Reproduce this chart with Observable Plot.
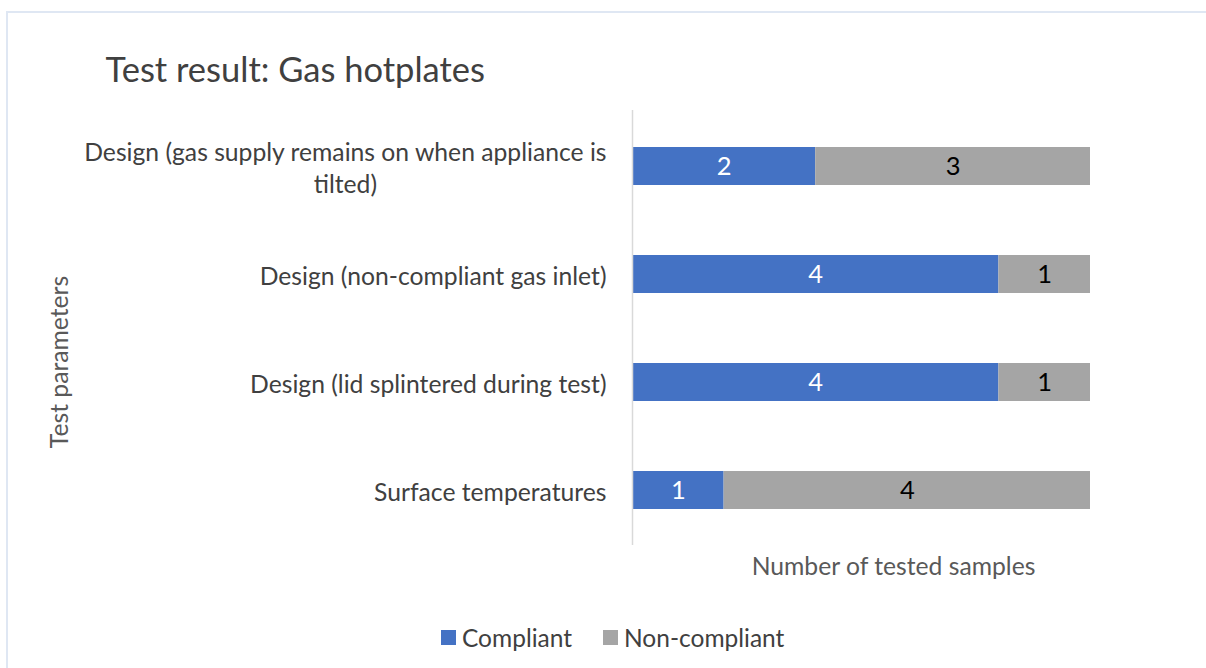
<!DOCTYPE html>
<html>
<head>
<meta charset="utf-8">
<script src="https://cdn.jsdelivr.net/npm/d3@7"></script>
<script src="https://cdn.jsdelivr.net/npm/@observablehq/plot@0.6"></script>
<style>
  html, body { margin: 0; padding: 0; background: #fff; }
  body { width: 1206px; height: 668px; overflow: hidden; position: relative; font-family: Lato, "Open Sans", sans-serif; }
  #border { position: absolute; left: 6px; top: 11px; width: 1400px; height: 900px;
            border-left: 2px solid #dfe7f3; border-top: 2px solid #dfe7f3; }
  #chart { position: absolute; left: 0; top: 0; }
  #legend { position: absolute; left: 441px; top: 620px; height: 34px; display: flex; align-items: center;
            font-size: 24.5px; color: #404040; white-space: nowrap; }
  #legend .item { display: flex; align-items: center; margin-right: 31px; }
  #legend .sw { width: 15px; height: 15px; margin-right: 6px; }
</style>
</head>
<body>
<div id="border"></div>
<div id="chart"></div>
<div id="legend"></div>
<script>
const categories = [
  "Design (gas supply remains on when appliance is\ntilted)",
  "Design (non-compliant gas inlet)",
  "Design (lid splintered during test)",
  "Surface temperatures"
];
const compliant = [2, 4, 4, 1];
const nonCompliant = [3, 1, 1, 4];
const seriesNames = ["Compliant", "Non-compliant"];
const seriesColors = ["#4472C4", "#A5A5A5"];
const xDomain = [0, 5];
const titleText = "Test result: Gas hotplates";
const xTitle = "Number of tested samples";
const yTitle = "Test parameters";

const data = categories.flatMap((c, i) => [
  {category: c, status: seriesNames[0], value: compliant[i]},
  {category: c, status: seriesNames[1], value: nonCompliant[i]}
]);

const textColor = "#404040";
const titleColor = "#595959";
const fs = 24.7;

const chart = Plot.plot({
  width: 1206,
  height: 668,
  marginLeft: 632,
  marginRight: 116,
  marginTop: 110,
  marginBottom: 123,
  style: {fontFamily: "Lato, 'Open Sans', sans-serif", background: "transparent", overflow: "visible"},
  x: {domain: xDomain, axis: null},
  y: {domain: categories, paddingInner: 0.65, paddingOuter: 0.325, axis: null},
  color: {domain: seriesNames, range: seriesColors},
  marks: [
    Plot.barX(data, Plot.stackX({x: "value", y: "category", fill: "status", order: seriesNames})),
    Plot.ruleX([0], {stroke: "#d9d9d9", strokeWidth: 1.5}),
    Plot.text(data, Plot.stackX({x: "value", y: "category", z: "status", order: seriesNames,
      text: d => d.status === seriesNames[0] ? String(d.value) : "", fill: "white", fontSize: 25.5})),
    Plot.text(data, Plot.stackX({x: "value", y: "category", z: "status", order: seriesNames,
      text: d => d.status === seriesNames[1] ? String(d.value) : "", fill: "black", fontSize: 25.5})),
    Plot.axisY({tickSize: 0, tickPadding: 26, fontSize: fs, color: textColor, lineHeight: 1.32, label: null,
      tickFormat: d => d}),
    Plot.text([titleText], {frameAnchor: "top-left", textAnchor: "start", lineAnchor: "middle",
      dx: -527, dy: -40, fontSize: 34.5, fill: textColor}),
    Plot.text([xTitle], {frameAnchor: "bottom", textAnchor: "middle", lineAnchor: "middle", dx: 32, dy: 22, fontSize: fs, fill: titleColor}),
    Plot.text([yTitle], {frameAnchor: "left", textAnchor: "middle", lineAnchor: "middle", rotate: -90, dx: -572, dy: 34, fontSize: fs, fill: titleColor})
  ]
});
document.getElementById("chart").appendChild(chart);

// center the wrapped second line of multi-line category labels under the first line
chart.querySelectorAll("text").forEach(t => {
  const spans = t.querySelectorAll("tspan");
  if (spans.length === 2 && t.closest("[aria-label='y-axis tick label']")) {
    const w1 = spans[0].getComputedTextLength();
    const w2 = spans[1].getComputedTextLength();
    spans[1].setAttribute("x", -w1 / 2 + w2 / 2);
  }
});

const legend = document.getElementById("legend");
seriesNames.forEach((name, i) => {
  const item = document.createElement("div");
  item.className = "item";
  const sw = document.createElement("div");
  sw.className = "sw";
  sw.style.background = seriesColors[i];
  const label = document.createElement("span");
  label.textContent = name;
  item.appendChild(sw);
  item.appendChild(label);
  legend.appendChild(item);
});
</script>
</body>
</html>
